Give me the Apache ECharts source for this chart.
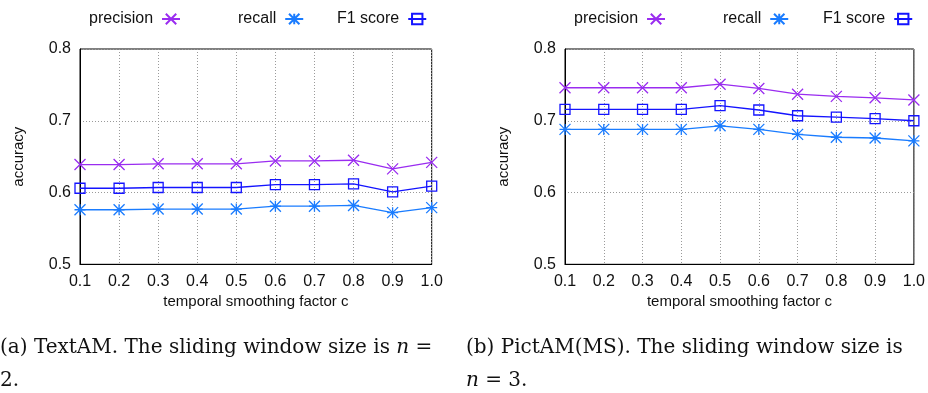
<!DOCTYPE html>
<html>
<head>
<meta charset="utf-8">
<script src="https://cdn.jsdelivr.net/npm/echarts@6/dist/echarts.min.js"></script>
<style>
html,body{margin:0;padding:0;background:#fff;}
#c{width:928px;height:393px;}
</style>
</head>
<body>
<div id="c"></div>
<script>
const xLabels = ['0.1','0.2','0.3','0.4','0.5','0.6','0.7','0.8','0.9','1.0'];
const seriesNames = ['precision','recall','F1 score'];
// (a) TextAM, n = 2
const textPrecision = [0.639,0.639,0.640,0.640,0.640,0.644,0.644,0.645,0.633,0.642];
const textRecall    = [0.576,0.576,0.577,0.577,0.577,0.581,0.581,0.582,0.572,0.579];
const textF1        = [0.606,0.606,0.607,0.607,0.607,0.611,0.611,0.612,0.601,0.609];
// (b) PictAM(MS), n = 3
const pictPrecision = [0.746,0.746,0.746,0.746,0.751,0.745,0.737,0.734,0.732,0.729];
const pictRecall    = [0.688,0.688,0.688,0.688,0.693,0.688,0.681,0.677,0.676,0.672];
const pictF1        = [0.716,0.716,0.716,0.716,0.721,0.715,0.707,0.705,0.703,0.700];
const yMin = 0.5, yMax = 0.8, yStep = 0.1;
const xAxisTitle = 'temporal smoothing factor c';
const yAxisTitle = 'accuracy';

const colors = {precision:'#9a2cf0', recall:'#1a7cff', 'F1 score':'#1414ff'};
const symbols = {
  precision: 'path://M0,0L10,10M0,10L10,0',
  recall: 'path://M0,0L10,10M0,10L10,0M5,0L5,10M0,5L10,5',
  'F1 score': 'path://M0,0L10,0L10,10L0,10Z'
};
const sizes = {precision:11, recall:11, 'F1 score':10};
const SANS = '"Liberation Sans", Arial, sans-serif';
const SERIF = '"DejaVu Serif", serif';
const FS = 16;

function mkSeries(name, data, idx){
  const c = colors[name];
  return {
    name, type:'line', data, xAxisIndex: idx, yAxisIndex: idx,
    symbol: symbols[name], symbolSize: sizes[name], showAllSymbol: true,
    itemStyle: {color:'none', borderColor:c, borderWidth:1.3},
    lineStyle: {color:c, width:1.3},
    emphasis: {disabled:true}, animation:false, z: 3
  };
}
function mkX(idx){
  return {
    type:'category', gridIndex: idx, data: xLabels, boundaryGap:false,
    axisLine:{lineStyle:{color:'#000', width:1}},
    axisTick:{show:false},
    axisLabel:{color:'#111', fontFamily:SANS, fontSize:FS, margin:9, interval:0},
    splitLine:{show:true, lineStyle:{color:'#9a9a9a', type:[1,2], width:1}},
    name: xAxisTitle, nameLocation:'middle', nameGap:28,
    nameTextStyle:{color:'#111', fontFamily:SANS, fontSize:15}
  };
}
function mkY(idx){
  return {
    type:'value', gridIndex: idx, min:yMin, max:yMax, interval:yStep,
    axisLine:{show:true, lineStyle:{color:'#000', width:1}},
    axisTick:{show:false},
    axisLabel:{color:'#111', fontFamily:SANS, fontSize:FS, margin:9, formatter:v=>v.toFixed(1)},
    splitLine:{show:true, lineStyle:{color:'#9a9a9a', type:[1,2], width:1}},
    name: yAxisTitle, nameLocation:'middle', nameGap:54, nameRotate:90,
    nameTextStyle:{color:'#111', fontFamily:SANS, fontSize:15}
  };
}
function mkLegend(name, left){
  return {
    data:[name], left, top:6, align:'right', orient:'horizontal',
    itemWidth:18, itemHeight:13, selectedMode:false,
    textStyle:{color:'#111', fontFamily:SANS, fontSize:FS, padding:[0,4,0,0]}
  };
}

const chart = echarts.init(document.getElementById('c'), null, {renderer:'canvas'});
chart.setOption({
  animation:false,
  backgroundColor:'#fff',
  grid:[
    {left:80, top:49, width:351.7, height:215.3, show:true, borderColor:'#000', borderWidth:1, containLabel:false},
    {left:565, top:49, width:351.7, height:215.3, show:true, borderColor:'#000', borderWidth:1, containLabel:false}
  ],
  xAxis:[mkX(0), mkX(1)],
  yAxis:[mkY(0), mkY(1)],
  legend:[
    mkLegend('precision', 84), mkLegend('recall', 233), mkLegend('F1 score', 332),
    mkLegend('precision', 569), mkLegend('recall', 718), mkLegend('F1 score', 818)
  ],
  series:[
    mkSeries('precision', textPrecision, 0),
    mkSeries('recall', textRecall, 0),
    mkSeries('F1 score', textF1, 0),
    mkSeries('precision', pictPrecision, 1),
    mkSeries('recall', pictRecall, 1),
    mkSeries('F1 score', pictF1, 1)
  ],
  graphic:[
    {type:'text', left:0, top:338, style:{text:'(a) TextAM. The sliding window size is {i|n} =', fill:'#111', font:'20px '+SERIF, rich:{i:{fontStyle:'italic', fontFamily:SERIF, fontSize:20, fill:'#111'}}}},
    {type:'text', left:0, top:371, style:{text:'2.', fill:'#111', font:'20px '+SERIF}},
    {type:'text', left:466, top:338, style:{text:'(b) PictAM(MS). The sliding window size is', fill:'#111', font:'20px '+SERIF}},
    {type:'text', left:466, top:371, style:{text:'{i|n} = 3.', fill:'#111', font:'20px '+SERIF, rich:{i:{fontStyle:'italic', fontFamily:SERIF, fontSize:20, fill:'#111'}}}}
  ]
});
</script>
</body>
</html>
